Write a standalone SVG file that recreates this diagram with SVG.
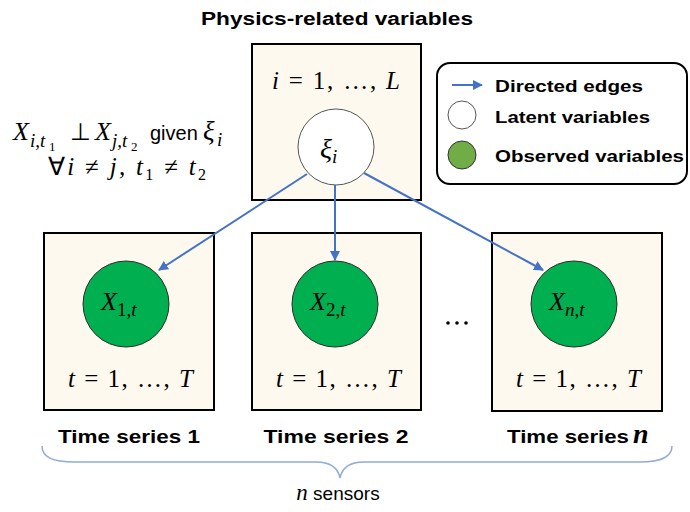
<svg xmlns="http://www.w3.org/2000/svg" width="690" height="512" viewBox="0 0 690 512">
<defs>
<style>
.plate{fill:#FEF9EF;stroke:#000;stroke-width:2}
.obs{fill:#00B050;stroke:#2b2b2b;stroke-width:1}
.lat{fill:#fff;stroke:#555;stroke-width:1}
.edge{stroke:#4472C4;stroke-width:2;fill:none}
.m{font-family:"Liberation Serif",serif;font-style:italic;fill:#000}
.mr{font-family:"Liberation Serif",serif;font-style:normal;fill:#000}
.lbl{font-family:"Liberation Sans",Arial,sans-serif;font-weight:bold;fill:#000}
.sans{font-family:"Liberation Sans",Arial,sans-serif;font-style:normal;fill:#000}
</style>
<marker id="arr" viewBox="0 0 10 10" refX="9" refY="5" markerWidth="5" markerHeight="5" markerUnits="strokeWidth" orient="auto">
<path d="M0,0 L10,5 L0,10 z" fill="#4472C4"/>
</marker>
</defs>
<rect width="690" height="512" fill="#fff"/>

<text class="lbl" x="337" y="25" font-size="18" text-anchor="middle" textLength="272" lengthAdjust="spacingAndGlyphs">Physics-related variables</text>

<g id="plate-physics">
<rect class="plate" x="252" y="44" width="169" height="156"/>
<text class="m" x="272" y="89" font-size="25" textLength="128" lengthAdjust="spacing">i <tspan class="mr">= 1, …,</tspan> L</text>
</g>

<g id="node-xi">
<circle class="lat" cx="336" cy="147" r="38"/>
<text class="m" x="320" y="158" font-size="28">ξ<tspan font-size="19" dy="5">i</tspan></text>
</g>

<g id="condition">
<text class="m" x="13" y="140" font-size="26">X</text>
<text class="m" x="30" y="147" font-size="19">i,t</text>
<text class="mr" x="49" y="151" font-size="13">1</text>
<text class="mr" x="70" y="140" font-size="24">⊥</text>
<text class="m" x="95" y="140" font-size="26">X</text>
<text class="m" x="112" y="147" font-size="19">j,t</text>
<text class="mr" x="131" y="151" font-size="13">2</text>
<text class="sans" x="150" y="140" font-size="20">given</text>
<text class="m" x="203" y="140" font-size="27">ξ</text>
<text class="m" x="217" y="146" font-size="19">i</text>
<text class="m" x="48" y="175" font-size="25" textLength="158" lengthAdjust="spacing"><tspan class="mr">∀</tspan>i <tspan class="mr">≠</tspan> j, t<tspan class="mr" font-size="16" dy="5">1</tspan><tspan class="mr" dy="-5"> ≠ </tspan>t<tspan class="mr" font-size="16" dy="5">2</tspan></text>
</g>

<g id="legend">
<rect x="437" y="63" width="250" height="121" rx="13" ry="13" fill="#fff" stroke="#000" stroke-width="2"/>
<line x1="452" y1="85" x2="482" y2="85" class="edge" marker-end="url(#arr)"/>
<text class="lbl" x="495" y="92" font-size="17" textLength="148" lengthAdjust="spacingAndGlyphs">Directed edges</text>
<circle cx="462" cy="115" r="14" fill="#fff" stroke="#555" stroke-width="1"/>
<text class="lbl" x="495" y="123" font-size="17" textLength="155" lengthAdjust="spacingAndGlyphs">Latent variables</text>
<circle cx="462" cy="155" r="14" fill="#70AD47" stroke="#333" stroke-width="1"/>
<text class="lbl" x="495" y="162" font-size="17" textLength="189" lengthAdjust="spacingAndGlyphs">Observed variables</text>
</g>

<g id="plate-ts1">
<rect class="plate" x="44" y="233" width="170" height="177"/>
<text class="m" x="68" y="387" font-size="25" textLength="125" lengthAdjust="spacing">t <tspan class="mr">= 1, …,</tspan> T</text>
<text class="lbl" x="129" y="443" font-size="18" text-anchor="middle" textLength="142" lengthAdjust="spacingAndGlyphs">Time series 1</text>
</g>
<g id="node-x1">
<circle class="obs" cx="126" cy="304" r="43"/>
<text class="m" x="101" y="310" font-size="26">X<tspan font-size="19" dy="6" class="mr">1,</tspan><tspan font-size="19">t</tspan></text>
</g>

<g id="plate-ts2">
<rect class="plate" x="252" y="233" width="169" height="177"/>
<text class="m" x="276" y="387" font-size="25" textLength="125" lengthAdjust="spacing">t <tspan class="mr">= 1, …,</tspan> T</text>
<text class="lbl" x="336" y="443" font-size="18" text-anchor="middle" textLength="145" lengthAdjust="spacingAndGlyphs">Time series 2</text>
</g>
<g id="node-x2">
<circle class="obs" cx="335" cy="304" r="43"/>
<text class="m" x="310" y="310" font-size="26">X<tspan font-size="19" dy="6" class="mr">2,</tspan><tspan font-size="19">t</tspan></text>
</g>

<g id="ellipsis">
<circle cx="448" cy="323" r="1.8" fill="#000"/>
<circle cx="457" cy="323" r="1.8" fill="#000"/>
<circle cx="466" cy="323" r="1.8" fill="#000"/>
</g>

<g id="plate-tsn">
<rect class="plate" x="492" y="233" width="170" height="178"/>
<text class="m" x="516" y="387" font-size="25" textLength="125" lengthAdjust="spacing">t <tspan class="mr">= 1, …,</tspan> T</text>
<text class="lbl" x="507" y="443" font-size="18" textLength="122" lengthAdjust="spacingAndGlyphs">Time series</text>
<text class="m" x="633" y="443" font-size="28" font-weight="bold">n</text>
</g>
<g id="node-xn">
<circle class="obs" cx="574" cy="304" r="43"/>
<text class="m" x="549" y="310" font-size="26">X<tspan font-size="19" dy="6">n</tspan><tspan font-size="19" class="mr">,</tspan><tspan font-size="19">t</tspan></text>
</g>

<g id="connectors">
<line class="edge" x1="307" y1="174" x2="159" y2="270" marker-end="url(#arr)"/>
<line class="edge" x1="335" y1="185" x2="335" y2="260" marker-end="url(#arr)"/>
<line class="edge" x1="364" y1="173" x2="543" y2="270" marker-end="url(#arr)"/>
</g>

<g id="brace">
<path d="M42,446 C42,457 52,462 75,462 L316,462 C331,462 338,468 340,478 C342,468 349,462 364,462 L640,462 C662,462 672,457 672,446" fill="none" stroke="#8FAADC" stroke-width="1.5"/>
<text x="338" y="500" font-size="19" text-anchor="middle"><tspan class="m" font-size="23">n</tspan><tspan class="sans"> sensors</tspan></text>
</g>
</svg>
